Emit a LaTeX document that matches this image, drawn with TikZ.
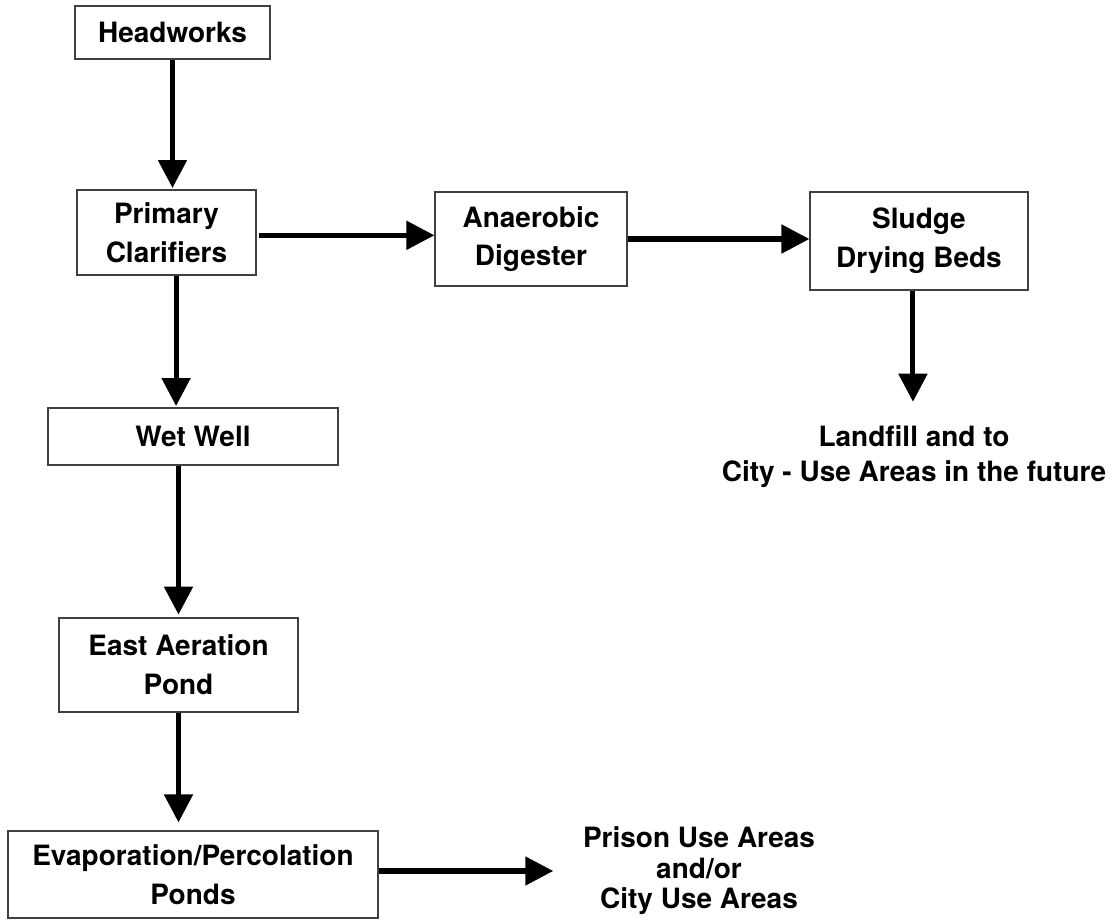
\documentclass[tikz,border=0pt]{standalone}
\usepackage{fontspec}
\setmainfont{TeX Gyre Heros}
\usetikzlibrary{arrows.meta}

\begin{document}
\begin{tikzpicture}[x=0.025cm,y=-0.025cm,
    box/.style={draw=black!75,line width=0.8pt,inner sep=0pt,align=center,
        font=\fontsize{19.9}{27.5}\selectfont\bfseries},
    flow/.style={line width=3.6pt,-{Triangle[length=0.7cm,width=0.7cm]}},
    outlbl/.style={inner sep=0pt,align=center}]
    \useasboundingbox (0,0) rectangle (1112,920);
    \node [box,minimum width=4.875cm,minimum height=1.325cm] (head) at (172.5,32.5) {Headworks};
    \node [box,minimum width=4.475cm,minimum height=2.125cm] (prim) at (166.5,232.5) {Primary\\Clarifiers};
    \node [box,minimum width=4.8cm,minimum height=2.35cm] (anae) at (531,239) {Anaerobic\\Digester};
    \node [box,minimum width=5.45cm,minimum height=2.45cm] (sludge) at (919,241) {Sludge\\Drying Beds};
    \node [box,minimum width=7.25cm,minimum height=1.425cm] (wet) at (193,436.5) {Wet Well};
    \node [box,minimum width=5.975cm,minimum height=2.35cm] (east) at (178.5,665) {East Aeration\\Pond};
    \node [box,minimum width=9.25cm,minimum height=2.175cm] (evap) at (193,874.5) {Evaporation/Percolation\\Ponds};
    \node [outlbl,font=\fontsize{19.9}{25}\selectfont\bfseries] (land) at (914,457) {Landfill and to\\City - Use Areas in the future};
    \node [outlbl,font=\fontsize{19.9}{21.7}\selectfont\bfseries] (prison) at (699,871) {Prison Use Areas\\and/or\\City Use Areas};
    \draw [flow,shorten >=1pt] (head.south) -- (head.south |- prim.north);
    \draw [flow] ([xshift=2pt,yshift=-2pt]prim.east) -- ([yshift=-2pt]prim.east -| anae.west);
    \draw [flow] (anae.east) -- (anae.east -| sludge.west);
    \draw [flow,shorten >=17pt] ([xshift=-4.3pt]sludge.south) -- ([xshift=-4.3pt]sludge.south |- land.north);
    \draw [flow,shorten >=1pt] ([xshift=6.8pt]prim.south) -- ([xshift=6.8pt]prim.south |- wet.north);
    \draw [flow,shorten >=2pt] (east.north |- wet.south) -- (east.north);
    \draw [flow,shorten >=5.7pt] (east.south) -- (east.south |- evap.north);
    \draw [flow,shorten >=21pt] ([yshift=2.5pt]evap.east) -- ([yshift=2.5pt]evap.east -| prison.west);
\end{tikzpicture}
\end{document}
